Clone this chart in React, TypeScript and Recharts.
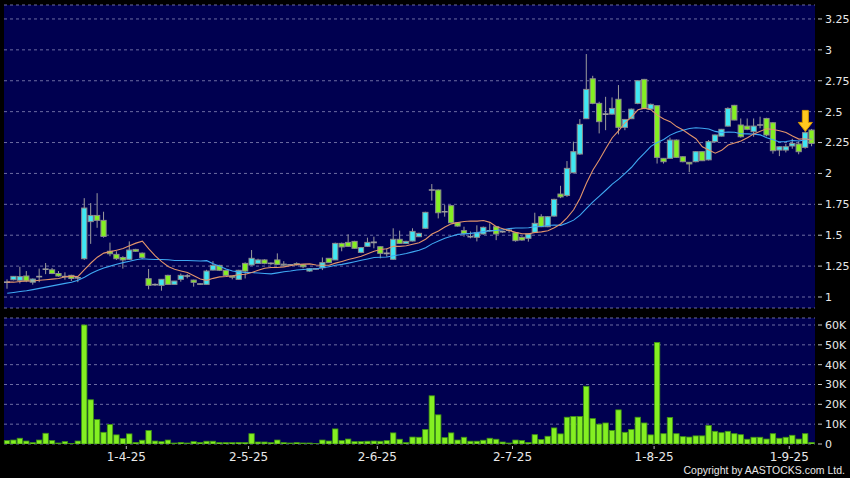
import React from 'react';
import { ComposedChart, Bar, Line, XAxis, YAxis, CartesianGrid, ReferenceDot } from 'recharts';

// trading days shown, d-m-yy
const dates = [
  '5-3-25', '6-3-25', '7-3-25', '10-3-25', '11-3-25', '12-3-25', '13-3-25', '14-3-25', '17-3-25', '18-3-25',
  '19-3-25', '20-3-25', '21-3-25', '24-3-25', '25-3-25', '26-3-25', '27-3-25', '28-3-25', '31-3-25',
  '1-4-25', '2-4-25', '3-4-25', '7-4-25', '8-4-25', '9-4-25', '10-4-25', '11-4-25', '14-4-25', '15-4-25',
  '16-4-25', '17-4-25', '22-4-25', '23-4-25', '24-4-25', '25-4-25', '28-4-25', '29-4-25', '30-4-25',
  '2-5-25', '6-5-25', '7-5-25', '8-5-25', '9-5-25', '12-5-25', '13-5-25', '14-5-25', '15-5-25', '16-5-25',
  '19-5-25', '20-5-25', '21-5-25', '22-5-25', '23-5-25', '26-5-25', '27-5-25', '28-5-25', '29-5-25', '30-5-25',
  '2-6-25', '3-6-25', '4-6-25', '5-6-25', '6-6-25', '9-6-25', '10-6-25', '11-6-25', '12-6-25', '13-6-25',
  '16-6-25', '17-6-25', '18-6-25', '19-6-25', '20-6-25', '23-6-25', '24-6-25', '25-6-25', '26-6-25', '27-6-25', '30-6-25',
  '2-7-25', '3-7-25', '4-7-25', '7-7-25', '8-7-25', '9-7-25', '10-7-25', '11-7-25', '14-7-25', '15-7-25',
  '16-7-25', '17-7-25', '18-7-25', '21-7-25', '22-7-25', '23-7-25', '24-7-25', '25-7-25', '28-7-25', '29-7-25',
  '30-7-25', '31-7-25',
  '1-8-25', '4-8-25', '5-8-25', '6-8-25', '7-8-25', '8-8-25', '11-8-25', '12-8-25', '13-8-25', '14-8-25',
  '15-8-25', '18-8-25', '19-8-25', '20-8-25', '21-8-25', '22-8-25', '25-8-25', '26-8-25', '27-8-25', '28-8-25', '29-8-25',
  '1-9-25', '2-9-25', '3-9-25', '4-9-25',
];

const opens = [
  1.12, 1.14, 1.135, 1.17, 1.12, 1.165, 1.225, 1.22, 1.19, 1.165,
  1.175, 1.155, 1.31, 1.61, 1.66, 1.62, 1.37, 1.345, 1.32, 1.305,
  1.385, 1.355, 1.148, 1.10, 1.094, 1.175, 1.102, 1.143, 1.17, 1.137,
  1.105, 1.102, 1.218, 1.256, 1.216, 1.17, 1.143, 1.272, 1.259, 1.272,
  1.30, 1.272, 1.30, 1.258, 1.26, 1.27, 1.26, 1.21, 1.227, 1.237,
  1.313, 1.30, 1.434, 1.442, 1.45, 1.361, 1.41, 1.442, 1.407, 1.353,
  1.305, 1.467, 1.434, 1.453, 1.488, 1.556, 1.866, 1.866, 1.69, 1.739,
  1.601, 1.537, 1.488, 1.483, 1.51, 1.536, 1.569, 1.529, 1.54, 1.52,
  1.483, 1.475, 1.523, 1.65, 1.569, 1.655, 1.833, 1.822, 2.006, 2.157,
  2.443, 2.766, 2.567, 2.48, 2.48, 2.6, 2.373, 2.443, 2.567, 2.761,
  2.521, 2.548, 2.122, 2.122, 2.27, 2.135, 2.09, 2.095, 2.176, 2.11,
  2.257, 2.302, 2.383, 2.551, 2.392, 2.383, 2.338, 2.392, 2.445, 2.41,
  2.189, 2.189, 2.222, 2.238, 2.211, 2.351,
];

const highs = [
  1.143, 1.17, 1.245, 1.21, 1.15, 1.23, 1.275, 1.235, 1.21, 1.20,
  1.18, 1.16, 1.80, 1.76, 1.84, 1.69, 1.44, 1.37, 1.33, 1.45,
  1.39, 1.36, 1.227, 1.11, 1.145, 1.18, 1.13, 1.19, 1.186, 1.14,
  1.11, 1.22, 1.29, 1.26, 1.22, 1.17, 1.22, 1.28, 1.38, 1.31,
  1.305, 1.28, 1.353, 1.29, 1.265, 1.28, 1.265, 1.232, 1.232, 1.32,
  1.315, 1.44, 1.44, 1.507, 1.455, 1.405, 1.48, 1.488, 1.41, 1.394,
  1.556, 1.537, 1.455, 1.556, 1.52, 1.69, 1.914, 1.87, 1.744, 1.745,
  1.605, 1.569, 1.53, 1.58, 1.57, 1.596, 1.575, 1.535, 1.556, 1.525,
  1.49, 1.515, 1.682, 1.67, 1.655, 1.795, 1.90, 2.10, 2.257, 2.44,
  2.966, 2.79, 2.58, 2.62, 2.615, 2.715, 2.44, 2.525, 2.755, 2.765,
  2.565, 2.55, 2.125, 2.29, 2.275, 2.14, 2.09, 2.18, 2.18, 2.27,
  2.315, 2.36, 2.535, 2.555, 2.445, 2.445, 2.445, 2.459, 2.45, 2.415,
  2.22, 2.24, 2.28, 2.26, 2.34, 2.36,
];

const lows = [
  1.067, 1.135, 1.11, 1.12, 1.10, 1.12, 1.185, 1.185, 1.165, 1.14,
  1.13, 1.12, 1.30, 1.43, 1.56, 1.48, 1.33, 1.30, 1.23, 1.30,
  1.365, 1.31, 1.062, 1.09, 1.051, 1.10, 1.10, 1.124, 1.151, 1.084,
  1.10, 1.10, 1.215, 1.21, 1.17, 1.143, 1.14, 1.15, 1.255, 1.27,
  1.265, 1.26, 1.26, 1.245, 1.255, 1.255, 1.232, 1.205, 1.222, 1.218,
  1.275, 1.30, 1.37, 1.405, 1.39, 1.355, 1.405, 1.394, 1.313, 1.326,
  1.30, 1.43, 1.43, 1.45, 1.485, 1.55, 1.78, 1.636, 1.65, 1.60,
  1.57, 1.488, 1.475, 1.45, 1.505, 1.529, 1.46, 1.52, 1.52, 1.448,
  1.455, 1.448, 1.52, 1.565, 1.565, 1.65, 1.80, 1.81, 2.0, 2.15,
  2.44, 2.56, 2.324, 2.35, 2.475, 2.316, 2.35, 2.44, 2.56, 2.52,
  2.515, 2.08, 2.08, 2.12, 2.125, 2.09, 2.01, 2.09, 2.10, 2.105,
  2.25, 2.30, 2.38, 2.43, 2.29, 2.35, 2.297, 2.365, 2.30, 2.16,
  2.14, 2.17, 2.2, 2.155, 2.2, 2.22,
];

const closes = [
  1.12, 1.167, 1.165, 1.13, 1.145, 1.165, 1.225, 1.19, 1.17, 1.165,
  1.15, 1.155, 1.72, 1.66, 1.62, 1.49, 1.35, 1.31, 1.30, 1.38,
  1.37, 1.32, 1.094, 1.10, 1.143, 1.102, 1.129, 1.175, 1.17, 1.119,
  1.105, 1.21, 1.256, 1.216, 1.175, 1.16, 1.216, 1.21, 1.313, 1.30,
  1.272, 1.267, 1.264, 1.266, 1.26, 1.26, 1.245, 1.229, 1.227, 1.278,
  1.278, 1.434, 1.405, 1.41, 1.394, 1.40, 1.442, 1.442, 1.353, 1.353,
  1.467, 1.434, 1.45, 1.531, 1.515, 1.685, 1.866, 1.682, 1.69, 1.601,
  1.574, 1.515, 1.488, 1.52, 1.564, 1.536, 1.51, 1.529, 1.54, 1.456,
  1.461, 1.51, 1.596, 1.569, 1.65, 1.79, 1.81, 2.041, 2.176, 2.397,
  2.68, 2.567, 2.419, 2.48, 2.526, 2.373, 2.437, 2.52, 2.75, 2.526,
  2.559, 2.13, 2.095, 2.27, 2.13, 2.095, 2.077, 2.176, 2.103, 2.257,
  2.311, 2.357, 2.526, 2.432, 2.297, 2.357, 2.383, 2.392, 2.311, 2.184,
  2.216, 2.216, 2.243, 2.176, 2.33, 2.243,
];

// orange line (short average)
const ma10 = [
  1.12, 1.12, 1.125, 1.13, 1.13, 1.135, 1.14, 1.145, 1.15,
  1.164, 1.167, 1.166, 1.222, 1.275, 1.322, 1.355, 1.367, 1.379, 1.392,
  1.414, 1.436, 1.452, 1.389, 1.333, 1.286, 1.247, 1.225, 1.211, 1.198,
  1.172, 1.146, 1.135, 1.151, 1.163, 1.166, 1.172, 1.18, 1.184, 1.198,
  1.216, 1.233, 1.239, 1.239, 1.244, 1.253, 1.263, 1.266, 1.268, 1.259,
  1.257, 1.257, 1.274, 1.288, 1.303, 1.316, 1.33, 1.35, 1.371, 1.384,
  1.391, 1.41, 1.41, 1.415, 1.427, 1.439, 1.467, 1.51, 1.534, 1.567,
  1.592, 1.603, 1.611, 1.615, 1.614, 1.619, 1.604, 1.568, 1.553, 1.538,
  1.523, 1.512, 1.511, 1.522, 1.527, 1.536, 1.561, 1.591, 1.642, 1.706,
  1.8, 1.922, 2.028, 2.11, 2.201, 2.289, 2.347, 2.41, 2.458, 2.515,
  2.528, 2.516, 2.472, 2.44, 2.419, 2.379, 2.351, 2.315, 2.281, 2.216,
  2.189, 2.164, 2.187, 2.23, 2.246, 2.263, 2.289, 2.32, 2.342, 2.362,
  2.355, 2.346, 2.331, 2.303, 2.278, 2.281, 2.269,
];

// blue line (long average)
const ma20 = [
  1.03, 1.037, 1.045, 1.05, 1.06, 1.07, 1.08, 1.09, 1.1, 1.11,
  1.12, 1.135, 1.16, 1.19, 1.215, 1.235, 1.25, 1.265, 1.278,
  1.289, 1.302, 1.309, 1.306, 1.304, 1.304, 1.301, 1.296, 1.295, 1.295,
  1.293, 1.291, 1.294, 1.27, 1.248, 1.226, 1.21, 1.203, 1.198, 1.198,
  1.194, 1.19, 1.187, 1.195, 1.204, 1.21, 1.218, 1.223, 1.226, 1.229,
  1.237, 1.245, 1.257, 1.264, 1.274, 1.285, 1.297, 1.308, 1.32, 1.322,
  1.324, 1.334, 1.342, 1.352, 1.365, 1.378, 1.399, 1.43, 1.453, 1.476,
  1.492, 1.507, 1.511, 1.515, 1.521, 1.529, 1.536, 1.539, 1.544, 1.553,
  1.558, 1.558, 1.561, 1.569, 1.571, 1.578, 1.583, 1.58, 1.598, 1.622,
  1.662, 1.717, 1.77, 1.816, 1.864, 1.913, 1.954, 2.001, 2.05, 2.111,
  2.164, 2.219, 2.25, 2.275, 2.31, 2.334, 2.349, 2.363, 2.37, 2.366,
  2.359, 2.34, 2.33, 2.335, 2.333, 2.321, 2.32, 2.318, 2.312, 2.289,
  2.272, 2.255, 2.259, 2.267, 2.262, 2.272, 2.279,
];

// volume, thousands of shares
const volumes = [
  1.7, 2.0, 2.9, 1.5, 0.7, 2.0, 5.4, 1.7, 0.5, 1.2,
  0.3, 1.5, 60, 22.3, 12.3, 5.9, 9.8, 4.6, 2.7, 5.1,
  0.8, 1.9, 6.8, 1.5, 1.2, 2.0, 0.5, 0.8, 0.5, 1.2,
  0.8, 1.4, 1.4, 0.7, 0.7, 0.7, 0.8, 0.7, 5.2, 1.0,
  1.0, 0.7, 2.0, 0.7, 0.5, 0.7, 0.5, 0.5, 0.2, 2.0,
  1.5, 7.6, 1.7, 2.5, 1.2, 1.2, 1.4, 1.5, 1.4, 1.7,
  5.6, 2.4, 0.7, 3.5, 3.4, 7.3, 24.3, 14.7, 3.2, 5.6,
  2.0, 3.4, 1.4, 1.4, 1.9, 2.9, 2.4, 1.0, 0.5, 2.0,
  1.7, 0.8, 4.7, 2.2, 3.9, 8.1, 5.1, 13.5, 13.9, 13.9,
  29.1, 12.8, 10.0, 10.6, 6.8, 17.2, 5.9, 7.3, 13.5, 10.6,
  4.6, 51.2, 5.2, 13.4, 5.2, 3.7, 3.5, 4.1, 4.1, 9.3,
  6.4, 5.7, 6.4, 5.2, 4.7, 2.4, 3.4, 3.4, 2.5, 5.2,
  2.9, 3.4, 4.4, 2.5, 5.2, 0.8,
];

const tickDates = ['1-4-25', '2-5-25', '2-6-25', '2-7-25', '1-8-25', '1-9-25'];
const priceTicks = [1, 1.25, 1.5, 1.75, 2, 2.25, 2.5, 2.75, 3, 3.25];
const volumeTicks = [0, 10, 20, 30, 40, 50, 60];
const markerDate = '3-9-25';
const markerPrice = 2.34;

const rows = dates.map((date, i) => ({
  date,
  open: opens[i],
  high: highs[i],
  low: lows[i],
  close: closes[i],
  ma10: ma10[i],
  ma20: ma20[i],
  vol: volumes[i],
}));

const UP = '#3fe7f3';
const DOWN = '#84ef22';
const EDGE = '#8c8c8c';
const WICK = '#9c9c9c';
const NAVY = '#000050';
const GRID = '#6c6ca2';
const LABEL = '#e8e8e8';
const FONT = 'DejaVu Sans';

// vertical grid sits on the left edge of each labelled day
const gridX = (args: any) => {
  const scale = args?.xAxis?.scale;
  if (typeof scale !== 'function') return [];
  const out: number[] = [];
  tickDates.forEach((d) => {
    const v = scale(d);
    if (typeof v === 'number' && !isNaN(v)) out.push(v);
  });
  return out;
};

function Candle(props: any) {
  const { x, y, width, height, payload } = props;
  if (!payload || typeof x !== 'number') return null;
  const top = Math.min(y, y + height);
  const span = payload.high - payload.low;
  const ppu = span > 0 ? Math.abs(height) / span : 0;
  const py = (v: number) => top + (payload.high - v) * ppu;
  const cx = x + width / 2;
  const diff = payload.close - payload.open;
  const wick = <line x1={cx} x2={cx} y1={py(payload.high)} y2={py(payload.low)} stroke={WICK} strokeWidth={1} />;
  if (Math.abs(diff) < 0.006) {
    const yo = py(payload.open);
    return (
      <g>
        {wick}
        <line x1={cx - 3} x2={cx + 3} y1={yo} y2={yo} stroke={WICK} strokeWidth={1.6} />
      </g>
    );
  }
  const y1 = py(Math.max(payload.open, payload.close));
  const y2 = py(Math.min(payload.open, payload.close));
  return (
    <g>
      {wick}
      <rect x={cx - 2.6} y={y1} width={5.2} height={Math.max(y2 - y1, 1)} fill={diff > 0 ? UP : DOWN} stroke={EDGE} strokeWidth={1} />
    </g>
  );
}

function VolBar(props: any) {
  const { x, y, width, height } = props;
  if (typeof x !== 'number') return null;
  const cx = x + width / 2;
  return <rect x={cx - 2.7} y={y} width={5.4} height={Math.max(height, 0.6)} fill={DOWN} stroke="#3f9414" strokeWidth={0.8} />;
}

function Arrow(props: any) {
  const { cx, cy } = props;
  if (typeof cx !== 'number') return null;
  const d = `M${cx - 3},${cy - 21} H${cx + 3} V${cy - 9} H${cx + 7} L${cx},${cy} L${cx - 7},${cy - 9} H${cx - 3} Z`;
  return <path d={d} fill="#ffc91f" stroke="#d89a00" strokeWidth={1} />;
}

function RightTick(props: any) {
  const { x, y, payload, fmt } = props;
  const label = fmt ? fmt(payload.value) : String(payload.value);
  return (
    <g>
      <line x1={x - 7} x2={x - 3} y1={y} y2={y} stroke="#c4c4c4" strokeWidth={1} />
      <text x={x} y={y} dy="0.36em" fill={LABEL} fontSize={11} fontFamily={FONT} textAnchor="start">
        {label}
      </text>
    </g>
  );
}

function DateTick(props: any) {
  const { x, y, payload } = props;
  const tx = x - 3.2;
  return (
    <g>
      <line x1={tx} x2={tx} y1={y - 6} y2={y - 3} stroke="#b4b4b4" strokeWidth={1} />
      <text x={tx} y={y} dy="0.71em" fill={LABEL} fontSize={12} fontFamily={FONT} textAnchor="middle">
        {payload.value}
      </text>
    </g>
  );
}

const volFmt = (v: number) => (v === 0 ? '0' : `${v}K`);

export default function App() {
  return (
    <div style={{ position: 'fixed', left: 0, top: 0, width: 850, height: 478, background: '#000', overflow: 'hidden' }}>
      <ComposedChart width={850} height={312} data={rows} margin={{ top: 5, right: 0, bottom: 4, left: 4 }} barCategoryGap={0}>
        <CartesianGrid fill={NAVY} stroke={GRID} strokeDasharray="3 3" verticalCoordinatesGenerator={gridX} />
        <XAxis dataKey="date" hide />
        <YAxis
          orientation="right"
          width={35}
          type="number"
          domain={[0.911, 3.363]}
          allowDataOverflow
          ticks={priceTicks}
          interval={0}
          axisLine={false}
          tickLine={false}
          tickSize={7}
          tickMargin={3}
          tick={<RightTick />}
        />
        <Line dataKey="ma20" type="linear" stroke="#3fa8f2" strokeWidth={1.1} dot={false} isAnimationActive={false} />
        <Line dataKey="ma10" type="linear" stroke="#e2946a" strokeWidth={1.1} dot={false} isAnimationActive={false} />
        <Bar dataKey={(d: any) => [d.low, d.high]} shape={<Candle />} isAnimationActive={false} />
        <ReferenceDot x={markerDate} y={markerPrice} shape={(p: any) => <Arrow {...p} />} />
      </ComposedChart>
      <ComposedChart width={850} height={166} data={rows} margin={{ top: 6, right: 0, bottom: 4, left: 4 }} barCategoryGap={0}>
        <CartesianGrid fill={NAVY} stroke={GRID} strokeDasharray="3 3" verticalCoordinatesGenerator={gridX} />
        <XAxis
          dataKey="date"
          ticks={tickDates}
          interval={0}
          height={30}
          axisLine={false}
          tickLine={false}
          tickSize={5}
          tickMargin={3}
          tick={<DateTick />}
        />
        <YAxis
          orientation="right"
          width={35}
          type="number"
          domain={[0, 63.53]}
          allowDataOverflow
          ticks={volumeTicks}
          interval={0}
          axisLine={false}
          tickLine={false}
          tickSize={7}
          tickMargin={3}
          tick={<RightTick fmt={volFmt} />}
        />
        <Bar dataKey="vol" shape={<VolBar />} isAnimationActive={false} />
      </ComposedChart>
      <div
        style={{
          position: 'absolute',
          right: 5,
          top: 464,
          height: 13,
          lineHeight: '13px',
          fontSize: 10.5,
          fontFamily: '"Liberation Sans", Arial, sans-serif',
          color: LABEL,
          whiteSpace: 'nowrap',
        }}
      >
        Copyright by AASTOCKS.com Ltd.
      </div>
    </div>
  );
}
